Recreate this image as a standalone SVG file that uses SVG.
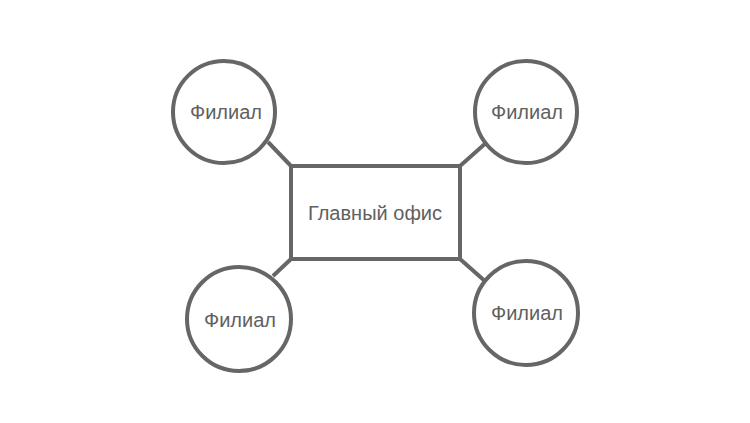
<svg xmlns="http://www.w3.org/2000/svg" width="750" height="423" viewBox="0 0 750 423">
<style>
.node{fill:#fff;stroke:#666;stroke-width:4}
.edge{stroke:#666;stroke-width:4;fill:none}
.lbl{font-family:"Liberation Sans",Arial,sans-serif;font-size:20px;fill:#606060;text-anchor:middle;dominant-baseline:central}
</style>
<rect width="750" height="423" fill="#fff"/>
<g id="connectors">
<line class="edge" x1="268" y1="142" x2="291" y2="166"/>
<line class="edge" x1="460" y1="166" x2="487" y2="142"/>
<line class="edge" x1="291" y1="259" x2="273" y2="276"/>
<line class="edge" x1="460" y1="259" x2="486" y2="282"/>
</g>
<g id="main">
<rect class="node" x="291" y="166" width="169" height="93"/>
<text class="lbl" x="375" y="213">Главный офис</text>
</g>
<g id="branch1">
<circle class="node" cx="224" cy="112" r="51"/>
<text class="lbl" x="226" y="112">Филиал</text>
</g>
<g id="branch2">
<circle class="node" cx="526" cy="112" r="51"/>
<text class="lbl" x="527" y="112">Филиал</text>
</g>
<g id="branch3">
<circle class="node" cx="239" cy="319" r="52"/>
<text class="lbl" x="240" y="320">Филиал</text>
</g>
<g id="branch4">
<circle class="node" cx="526" cy="313" r="52"/>
<text class="lbl" x="527" y="313">Филиал</text>
</g>
</svg>
